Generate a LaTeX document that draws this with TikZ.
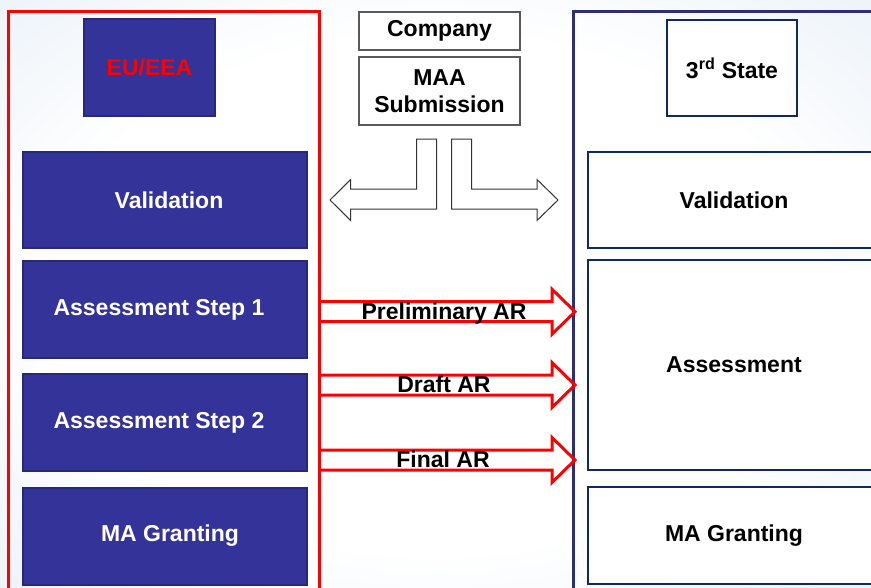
\documentclass[tikz,border=0pt]{standalone}
\usepackage{fontspec}
\setmainfont{Liberation Sans}
\definecolor{eublue}{HTML}{333399}
\definecolor{euedge}{HTML}{28287A}
\definecolor{navy}{HTML}{102A60}
\definecolor{frameblue}{HTML}{2E2E78}
\definecolor{bgblue}{HTML}{C4D9EE}
\pgfdeclareradialshading{slidebg}{\pgfpoint{0bp}{0bp}}{%
  color(0bp)=(white); color(22bp)=(white); color(66bp)=(bgblue)}
\tikzset{
  lbl/.style={font=\fontsize{23}{27.5}\selectfont\bfseries},
  eubox/.style={lbl, draw=euedge, line width=2pt, fill=eublue, text=white, inner sep=0pt},
  tsbox/.style={lbl, draw=navy, line width=2.5pt, fill=white, text=black, inner sep=0pt},
  cobox/.style={lbl, draw=black!65, line width=1.2pt, fill=white, align=center, inner sep=0pt},
  redarrow/.style={draw=red, line width=3pt, line join=miter},
  larrow/.style={draw=black!80, line width=1pt, fill=white, line join=miter},
}
\begin{document}
\begin{tikzpicture}[x=1pt,y=-1pt]
\useasboundingbox (0,0) rectangle (871,587);
\clip (0,0) rectangle (871,587);
% background
\shade[shading=slidebg] (0,0) rectangle (871,587);

% authority frames
\draw[red, line width=3pt] (8,11.5) rectangle (319,600);
\draw[frameblue, line width=3pt] (573,11.5) rectangle (900,600);

% EU/EEA column
\node[eubox, text=red, minimum width=131pt, minimum height=97pt] (eu) at (149.5,67.5) {EU/EEA};
\node[eubox, minimum width=284pt, minimum height=96pt] (v1) at (165,200) {\hspace*{8pt}Validation};
\node[eubox, minimum width=284pt, minimum height=97pt] (a1) at (165,309.5) {Assessment Step 1\hspace*{12pt}};
\node[eubox, minimum width=284pt, minimum height=97pt] (a2) at (165,422.5) {Assessment Step 2\hspace*{12pt}};
\node[eubox, minimum width=284pt, minimum height=97pt] (g1) at (165,536) {\hspace*{10pt}MA Granting};

% third-state column
\node[tsbox, minimum width=130pt, minimum height=96pt] (ts) at (732,68) {3\textsuperscript{rd} State};
\node[tsbox, minimum width=292pt, minimum height=96pt] (v2) at (734,200) {Validation};
\node[tsbox, minimum width=292pt, minimum height=210pt] (as2) at (734,365) {Assessment};
\node[tsbox, minimum width=292pt, minimum height=97pt] (g2) at (734,535.5) {MA Granting};

% company submission
\node[cobox, minimum width=161pt, minimum height=38pt] (co) at (439.5,31) {Company};
\node[cobox, minimum width=161pt, minimum height=68pt] (maa) at (439.5,91) {MAA\\Submission};

% hollow L-shaped arrows from the submission to both sides
\draw[larrow] (436.7,139) -- (436.7,209) -- (350.7,209) -- (350.7,220.5) -- (330,200)
  -- (350.7,179.5) -- (350.7,189) -- (416.7,189) -- (416.7,139) -- cycle;
\draw[larrow] (451.7,139) -- (471.7,139) -- (471.7,189) -- (537,189) -- (537,179.5)
  -- (558,200) -- (537,220.5) -- (537,209) -- (451.7,209) -- cycle;

% assessment reports sent to the third state
\foreach \yy in {311.7, 385, 460} {
  \draw[redarrow] (319,\yy-10) -- (552,\yy-10) -- (552,\yy-22.5) -- (575,\yy)
    -- (552,\yy+22.5) -- (552,\yy+10) -- (319,\yy+10);
}
\node[lbl, anchor=base] (prelim) at (444,319.5) {Preliminary AR};
\node[lbl, anchor=base] (draft) at (444,392.7) {Draft AR};
\node[lbl, anchor=base] (final) at (443,467.5) {Final AR};
\end{tikzpicture}
\end{document}
